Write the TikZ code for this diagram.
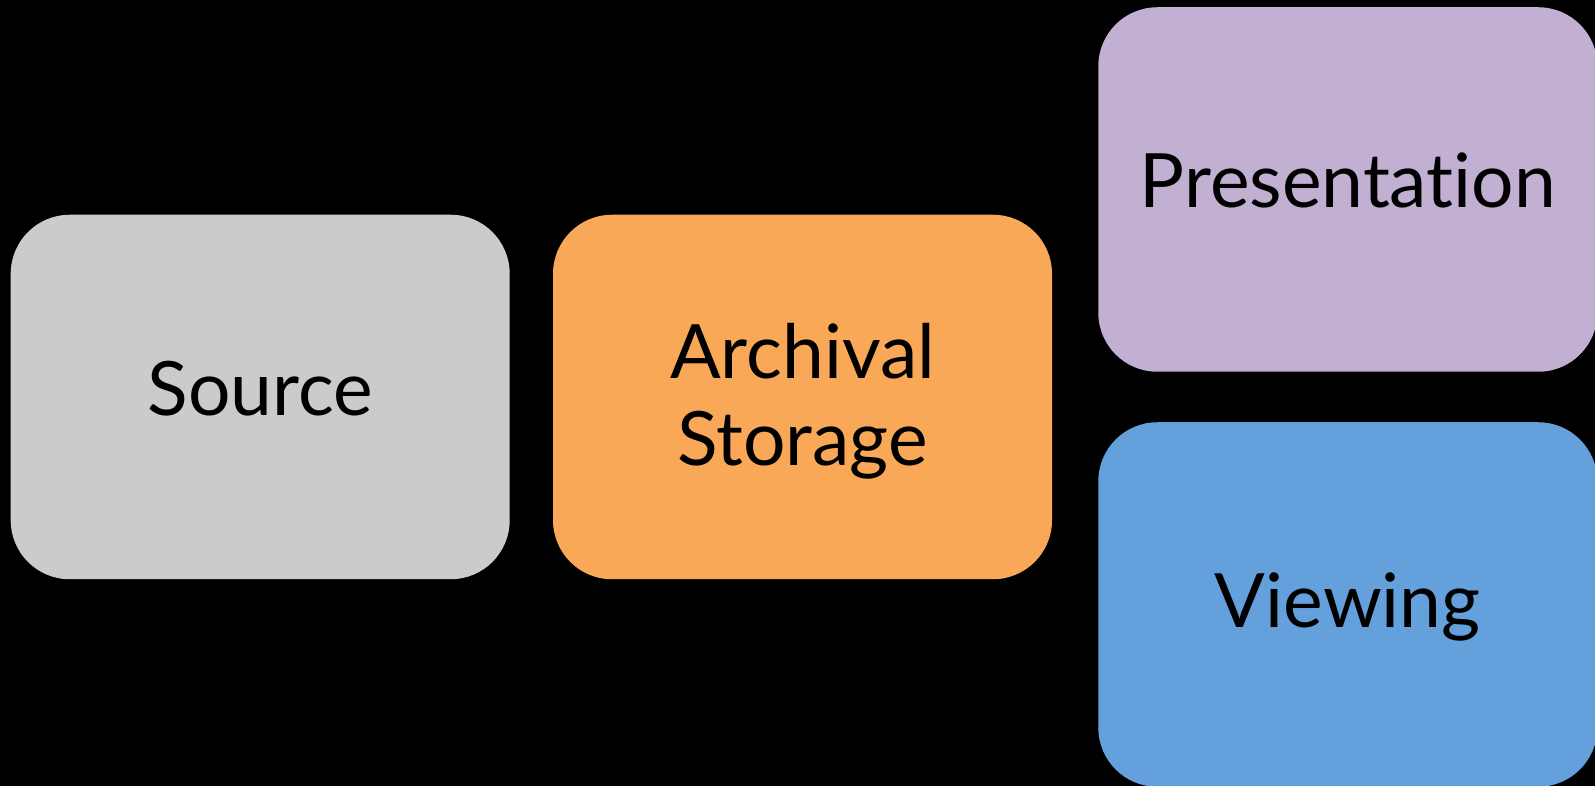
\documentclass[tikz,border=0pt]{standalone}
\usepackage{fontspec}
\setmainfont{Lato}[RawFeature=-liga]
\definecolor{srcgray}{RGB}{203,203,203}
\definecolor{archorange}{RGB}{249,168,87}
\definecolor{prespurple}{RGB}{193,176,210}
\definecolor{viewblue}{RGB}{99,160,220}
\tikzset{
	stage/.style={rectangle,rounded corners=59pt,minimum width=499pt,minimum height=364.5pt,
		inner sep=0pt,outer sep=0pt,align=center,text=black,
		font=\fontsize{75}{87}\selectfont,text depth=18pt}
}
\begin{document}
\begin{tikzpicture}[x=1pt,y=1pt]
	% black page
	\fill[black] (0,0) rectangle (1595,786);
	\useasboundingbox (0,0) rectangle (1595,786);
	\node[stage,fill=srcgray] (source) at (260.2,389) {Source};
	\node[stage,fill=archorange,text depth=6pt] (archive) at (802.5,389) {Archival\\Storage};
	\node[stage,fill=prespurple] (present) at (1347.8,596.5) {Presentation};
	\node[stage,fill=viewblue,text depth=8pt] (view) at (1347.8,181.5) {Viewing};
\end{tikzpicture}
\end{document}
